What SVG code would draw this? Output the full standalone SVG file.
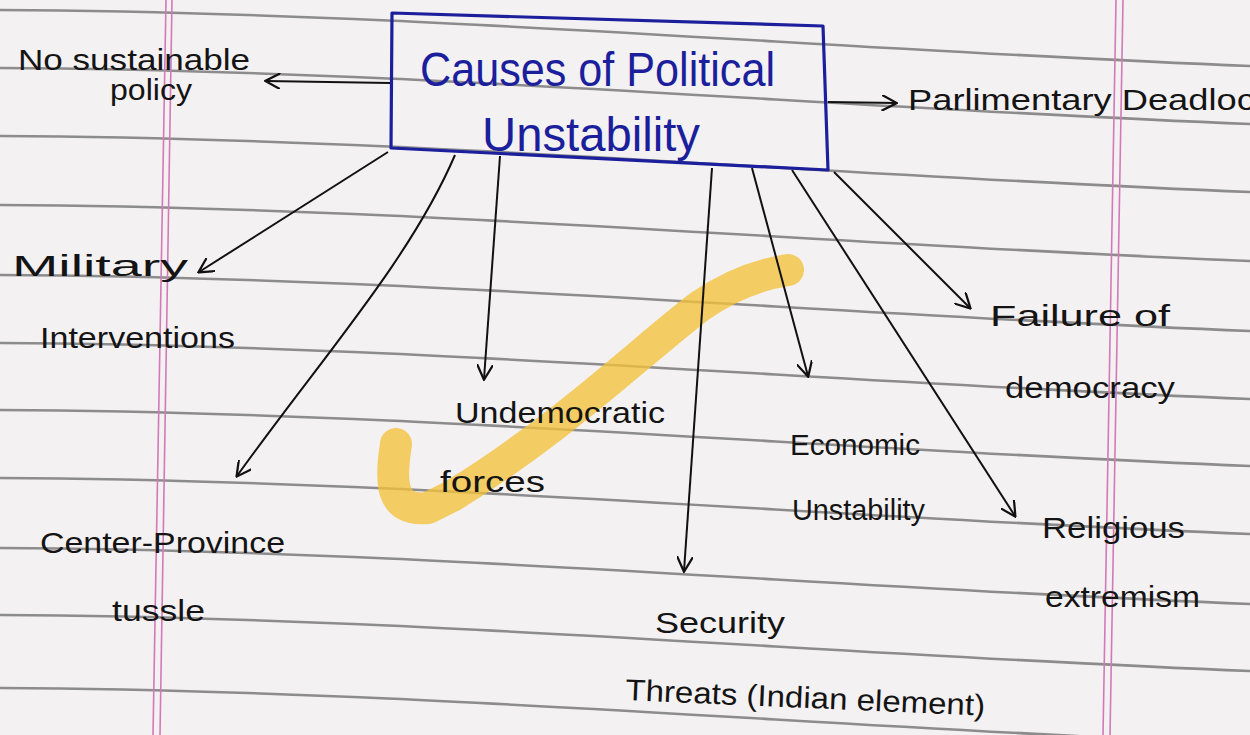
<svg xmlns="http://www.w3.org/2000/svg" width="1250" height="735" viewBox="0 0 1250 735">
<defs>
<style>
.rule{fill:none;stroke:#6a6a6a;stroke-width:2.6;opacity:0.75}
.margin{fill:none;stroke:#d27ab8;stroke-width:1.6}
.conn{fill:none;stroke:#111;stroke-width:2;marker-end:url(#ah)}
.t{font-family:"Liberation Sans",Arial,sans-serif;fill:#141414;font-size:30px}
.title{font-family:"Liberation Sans",Arial,sans-serif;fill:#1c1f9c;font-size:48px}
.box{fill:none;stroke:#1c1f9c;stroke-width:3.2;stroke-linejoin:round}
.hl{fill:none;stroke:#f2c23a;stroke-width:32;stroke-linecap:round;stroke-linejoin:round;opacity:0.78}
</style>
<marker id="ah" viewBox="0 0 10 10" refX="9" refY="5" markerWidth="16" markerHeight="16" markerUnits="userSpaceOnUse" orient="auto">
<path d="M0,0 L9.5,5 L0,10" fill="none" stroke="#111" stroke-width="1.4"/>
</marker>
</defs>
<rect x="0" y="0" width="1250" height="735" fill="#f4f1f3"/>
<g id="paper">
<path class="rule" d="M0 10 C417 12,833 50,1250 66"/>
<path class="rule" d="M0 68 C417 70,833 108,1250 124"/>
<path class="rule" d="M0 136 C417 138,833 176,1250 192"/>
<path class="rule" d="M0 205 C417 207,833 245,1250 261"/>
<path class="rule" d="M0 275 C417 277,833 315,1250 331"/>
<path class="rule" d="M0 343 C417 345,833 383,1250 399"/>
<path class="rule" d="M0 410 C417 412,833 450,1250 466"/>
<path class="rule" d="M0 478 C417 480,833 518,1250 534"/>
<path class="rule" d="M0 548 C417 550,833 588,1250 604"/>
<path class="rule" d="M0 615 C417 617,833 655,1250 671"/>
<path class="rule" d="M0 688 C417 690,833 728,1250 744"/>
<line class="margin" x1="166" y1="0" x2="153" y2="735"/>
<line class="margin" x1="172" y1="0" x2="160" y2="735"/>
<line class="margin" x1="1116" y1="0" x2="1103" y2="735"/>
<line class="margin" x1="1123" y1="0" x2="1110" y2="735"/>
<path class="hl" d="M396 444 C390 482,390 512,428 508 L452 496 C560 430,640 352,700 306 C732 284,762 274,788 270"/>
</g>
<g id="connectors">
<path class="conn" d="M390 83 L266 81"/>
<path class="conn" d="M828 102 L896 103"/>
<path class="conn" d="M388 152 L199 272"/>
<path class="conn" d="M455 155 C410 260,320 360,237 476"/>
<path class="conn" d="M500 156 L484 379"/>
<path class="conn" d="M712 168 L684 571"/>
<path class="conn" d="M752 168 L808 376"/>
<path class="conn" d="M792 170 L1015 516"/>
<path class="conn" d="M834 172 L970 308"/>
</g>
<g id="node-center">
<polygon class="box" points="392,13 823,26 828,170 391,148"/>
<text class="title" x="420" y="86" textLength="355" lengthAdjust="spacingAndGlyphs">Causes of Political</text>
<text class="title" x="482" y="151" textLength="218" lengthAdjust="spacingAndGlyphs">Unstability</text>
</g>
<g id="node-policy">
<text class="t" x="18" y="70" font-size="25" textLength="232" lengthAdjust="spacingAndGlyphs">No sustainable</text>
<text class="t" x="110" y="100" font-size="23" textLength="82" lengthAdjust="spacingAndGlyphs">policy</text>
</g>
<g id="node-parliament">
<text class="t" x="908" y="110" textLength="365" lengthAdjust="spacingAndGlyphs">Parlimentary Deadlock</text>
</g>
<g id="node-military">
<text class="t" x="12" y="276" font-size="34" textLength="176" lengthAdjust="spacingAndGlyphs">Military</text>
<text class="t" x="40" y="348" textLength="195" lengthAdjust="spacingAndGlyphs">Interventions</text>
</g>
<g id="node-undemocratic">
<text class="t" x="455" y="423" textLength="210" lengthAdjust="spacingAndGlyphs">Undemocratic</text>
<text class="t" x="440" y="492" textLength="105" lengthAdjust="spacingAndGlyphs">forces</text>
</g>
<g id="node-economic">
<text class="t" x="790" y="455" font-size="28" textLength="130" lengthAdjust="spacingAndGlyphs">Economic</text>
<text class="t" x="792" y="520" font-size="28" textLength="133" lengthAdjust="spacingAndGlyphs">Unstability</text>
</g>
<g id="node-failure">
<text class="t" x="990" y="326" font-size="32" textLength="180" lengthAdjust="spacingAndGlyphs">Failure of</text>
<text class="t" x="1005" y="398" font-size="32" textLength="170" lengthAdjust="spacingAndGlyphs">democracy</text>
</g>
<g id="node-religious">
<text class="t" x="1042" y="538" textLength="143" lengthAdjust="spacingAndGlyphs">Religious</text>
<text class="t" x="1045" y="607" textLength="155" lengthAdjust="spacingAndGlyphs">extremism</text>
</g>
<g id="node-center-province">
<text class="t" x="40" y="553" textLength="245" lengthAdjust="spacingAndGlyphs">Center-Province</text>
<text class="t" x="112" y="621" textLength="93" lengthAdjust="spacingAndGlyphs">tussle</text>
</g>
<g id="node-security">
<text class="t" x="655" y="633" textLength="130" lengthAdjust="spacingAndGlyphs">Security</text>
<text class="t" x="625" y="700" textLength="360" lengthAdjust="spacingAndGlyphs" transform="rotate(2.5 625 700)">Threats (Indian element)</text>
</g>
</svg>
